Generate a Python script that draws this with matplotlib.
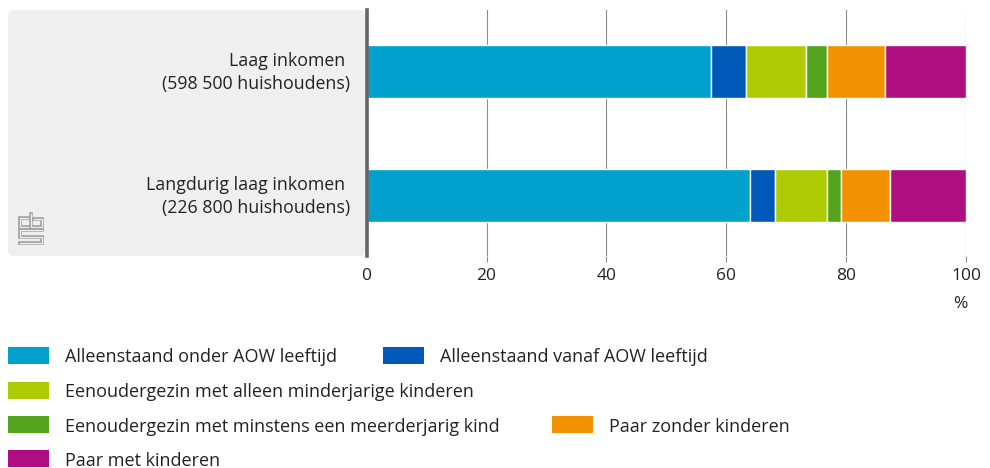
import numpy as np
import matplotlib.pyplot as plt
import matplotlib.transforms as mtransforms
from matplotlib.patches import FancyBboxPatch, Rectangle
from matplotlib.lines import Line2D

plt.rcParams["font.family"] = ["Open Sans", "DejaVu Sans"]

# data
groups = ["Laag inkomen \n(598 500 huishoudens)", "Langdurig laag inkomen \n(226 800 huishoudens)"]
categories = [
    "Alleenstaand onder AOW leeftijd",
    "Alleenstaand vanaf AOW leeftijd",
    "Eenoudergezin met alleen minderjarige kinderen",
    "Eenoudergezin met minstens een meerderjarig kind",
    "Paar zonder kinderen",
    "Paar met kinderen",
]
laag = [57.5, 5.7, 10.1, 3.4, 9.8, 13.5]
langdurig = [63.9, 4.2, 8.7, 2.3, 8.2, 12.7]
colors = ["#00a1cd", "#0058b8", "#afcb05", "#53a31d", "#f39200", "#af0e80"]
xticks = [0, 20, 40, 60, 80, 100]

W, H = 990, 468
fig = plt.figure(figsize=(W / 100, H / 100), dpi=100)


def fx(x):
    return x / W


def fy(y):
    return 1 - y / H


# grey panel behind the labels
panel = FancyBboxPatch((fx(8), fy(256)), fx(366) - fx(8), fy(10) - fy(256),
                       boxstyle="round,pad=0,rounding_size=%f" % (6 / W),
                       transform=fig.transFigure, facecolor="#efefef",
                       edgecolor="none", mutation_aspect=W / H, zorder=-1)
fig.patches.append(panel)

ax = fig.add_axes([fx(366.6), fy(256), fx(966.3) - fx(366.6), fy(10) - fy(256)])
ax.patch.set_alpha(0)

values = np.array([laag, langdurig])
ypos = np.arange(len(groups))
left = np.zeros(len(groups))
for i, cat in enumerate(categories):
    ax.barh(ypos, values[:, i], left=left, height=0.43, color=colors[i],
            edgecolor="white", linewidth=1, label=cat, zorder=3)
    left += values[:, i]

ax.set_xlim(0, 100)
ax.set_ylim(1.49, -0.5)
ax.set_xticks(xticks)
ax.set_yticks(ypos)
ax.set_yticklabels(groups)
ax.grid(axis="x", color="#8c8c8c", linewidth=0.8, zorder=0)
ax.set_axisbelow(True)
for s in ["top", "right", "bottom"]:
    ax.spines[s].set_visible(False)
ax.spines["left"].set_color("#666666")
ax.spines["left"].set_linewidth(2.6)
ax.spines["left"].set_zorder(5)

ax.tick_params(axis="x", length=4.5, width=0.8, color="#8c8c8c", pad=4,
               labelsize=12.5, labelcolor="#222222")
ax.tick_params(axis="y", length=0, pad=12, labelsize=12.8, labelcolor="#222222")
ax.xaxis.get_major_ticks()[0].tick1line.set_visible(False)
shift = mtransforms.ScaledTranslation(0, 2.5 / 72, fig.dpi_scale_trans)
for lab in ax.get_yticklabels():
    lab.set_linespacing(1.35)
    lab.set_transform(lab.get_transform() + shift)

fig.text(fx(960), fy(304), "%", ha="center", va="center", fontsize=12.5, color="#222222")

# cbs logo (rough)
logo_paths = [
    [(29, 218), (20, 218), (20, 227), (29, 227)],
    [(31, 214), (31, 227), (42, 227), (42, 219), (34, 219)],
    [(42, 230), (20, 230), (20, 236.5), (42, 236.5), (42, 243), (20, 243)],
]
for p in logo_paths:
    xs = [fx(a) for a, b in p]
    ys = [fy(b) for a, b in p]
    fig.add_artist(Line2D(xs, ys, color="#a0a0a0", linewidth=2.6,
                          solid_joinstyle="miter", transform=fig.transFigure))
    fig.add_artist(Line2D(xs, ys, color="#efefef", linewidth=0.9,
                          solid_joinstyle="miter", transform=fig.transFigure))

# legend, laid out like the original
leg_pos = [(8, 355.5), (383, 355.5), (8, 390), (8, 424.5), (552, 424.5), (8, 458.5)]
for (x, y), cat, col in zip(leg_pos, categories, colors):
    fig.patches.append(Rectangle((fx(x), fy(y + 8.5)), fx(41), 17 / H,
                                 transform=fig.transFigure, facecolor=col, edgecolor="none"))
    fig.text(fx(x + 57), fy(y), cat, ha="left", va="center_baseline",
             fontsize=13, color="#222222")

fig.savefig("out.png", dpi=100)
